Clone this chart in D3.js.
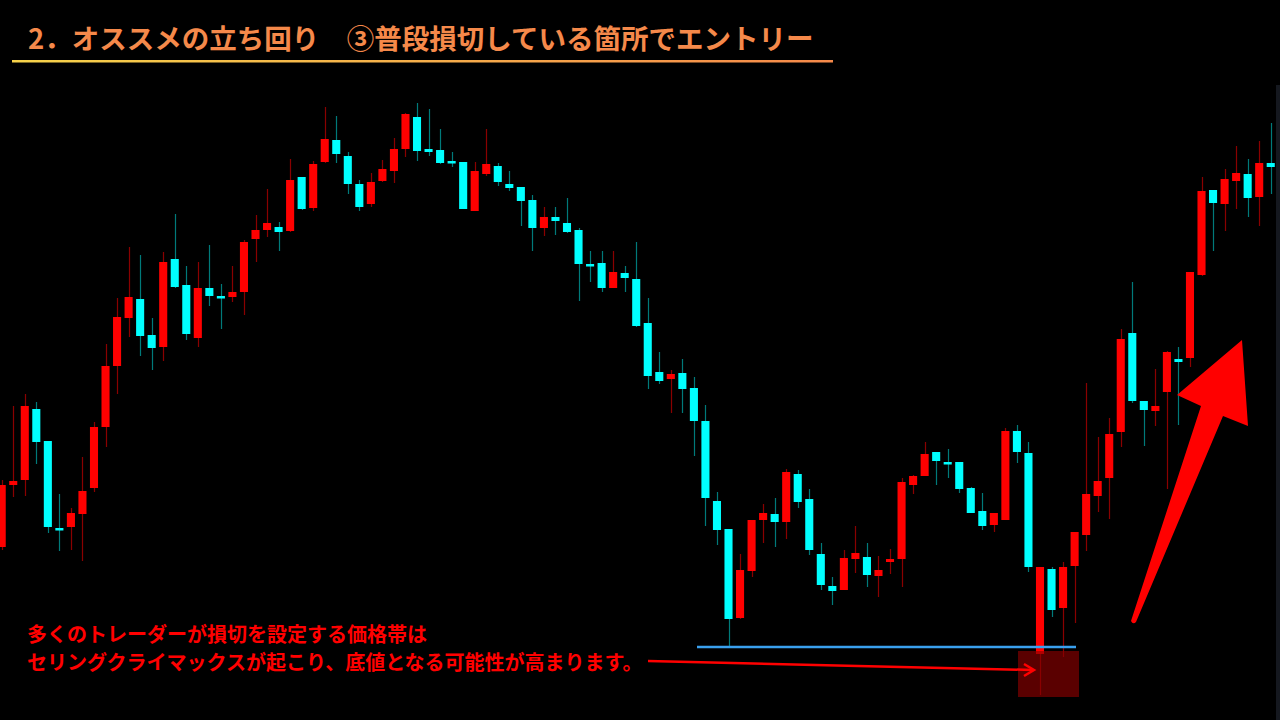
<!DOCTYPE html>
<html><head><meta charset="utf-8">
<script src="https://cdn.jsdelivr.net/npm/d3@7/dist/d3.min.js"></script>
<style>body{margin:0;background:#000;overflow:hidden}svg{display:block}</style>
</head><body><svg id="c" width="1280" height="720"></svg>
<script>
// price values (arbitrary pip units), index = bar number
const opens =[453,515,520,591,559,472,473,486,512,573,634,682,701,665,653,741,715,662,712,704,703,708,761,770,773,769,823,792,838,860,844,816,796,819,829,851,883,851,850,839,838,789,826,834,816,813,800,772,783,777,770,736,737,712,727,721,677,628,621,627,612,579,499,471,382,429,480,486,478,526,501,446,414,410,441,443,424,438,441,515,524,548,538,538,512,489,475,480,569,547,346,431,392,434,465,504,522,568,667,599,589,608,641,642,725,810,796,819,826,803,837];
const highs =[520,594,606,598,559,506,492,543,578,656,702,753,745,682,748,786,734,738,755,716,734,760,785,811,778,841,823,839,893,884,848,820,827,840,862,887,897,891,871,848,838,838,871,837,829,813,805,793,793,802,772,749,749,749,734,758,702,648,630,641,623,595,508,471,446,480,496,502,531,530,511,457,423,450,474,457,444,451,522,525,558,548,551,538,513,507,487,572,575,558,433,433,438,468,617,563,582,671,718,599,631,649,653,728,823,810,831,854,841,859,877];
const lows  =[450,503,504,536,467,449,450,439,508,553,606,663,644,630,639,712,660,653,694,671,698,685,738,763,749,768,790,789,837,837,806,789,793,818,817,843,839,844,836,833,791,789,824,814,809,774,749,764,765,767,699,718,708,712,708,673,611,616,587,587,544,474,455,353,381,423,457,453,461,492,445,410,395,410,427,413,403,426,413,506,524,515,522,507,487,470,468,480,537,428,305,383,343,377,449,488,481,553,597,554,574,511,575,633,724,749,769,791,783,774,806];
const closes=[515,519,594,558,473,472,487,509,573,634,683,703,664,652,738,713,666,712,704,704,708,758,770,777,768,820,791,836,861,846,816,793,818,831,851,886,849,848,837,839,791,829,836,818,812,799,772,783,779,768,736,736,712,728,722,674,624,619,626,611,579,502,470,381,430,480,487,478,528,498,450,415,409,442,447,425,430,441,518,524,546,539,538,511,487,474,487,569,548,433,433,390,433,468,506,519,566,661,599,590,594,648,638,728,809,797,821,827,802,837,833];
const supportLevel = 353;
const titleText = "2．オススメの立ち回り　③普段損切している箇所でエントリー";
const noteLines = ["多くのトレーダーが損切を設定する価格帯は","セリングクライマックスが起こり、底値となる可能性が高まります。"];

const bars = opens.map((o,i)=>({i,o,h:highs[i],l:lows[i],c:closes[i]}));
const svg = d3.select("#c");
svg.append("rect").attr("width",1280).attr("height",720).attr("fill","#000");
const x = d3.scaleBand().domain(d3.range(bars.length)).range([-4.07, 1276.5]).paddingInner(0.3).paddingOuter(0.15);
const y = d3.scaleLinear().domain([280,1000]).range([720,0]);

svg.append("rect").attr("x",1276).attr("y",85).attr("width",4).attr("height",635).attr("fill","#15181f");

const g = svg.append("g");
const up = d=>d.c>d.o;
g.selectAll("line.w").data(bars).join("line")
  .attr("x1",d=>Math.round(x(d.i)+x.bandwidth()/2)+0.5).attr("x2",d=>Math.round(x(d.i)+x.bandwidth()/2)+0.5)
  .attr("y1",d=>y(d.h)).attr("y2",d=>y(d.l))
  .attr("stroke",d=>up(d)?"#8a0000":"#007a7a").attr("stroke-width",1.2);
g.selectAll("rect.b").data(bars).join("rect")
  .attr("x",d=>x(d.i)).attr("width",x.bandwidth())
  .attr("y",d=>y(Math.max(d.o,d.c))).attr("height",d=>Math.max(2.5,Math.abs(y(d.o)-y(d.c))))
  .attr("fill",d=>up(d)?"#ff0000":"#00ffff");

// support line
svg.append("line").attr("x1",697).attr("x2",1076).attr("y1",y(supportLevel)).attr("y2",y(supportLevel))
  .attr("stroke","#3aa0ee").attr("stroke-width",2.5);
// dark red box
svg.append("rect").attr("x",1018).attr("y",651).attr("width",61).attr("height",46).attr("fill","#8b0000").attr("opacity",0.65);

// pointer arrow
svg.append("line").attr("x1",648).attr("y1",661).attr("x2",1033).attr("y2",670).attr("stroke","#ff0000").attr("stroke-width",2.5);
svg.append("path").attr("d","M1024,664 L1034,670 L1024,676").attr("fill","none").attr("stroke","#ff0000").attr("stroke-width",2.5);

// big arrow
svg.append("path").attr("d","M1131,621 Q1133,625 1136,622 L1223,416 L1248,426 L1242,340 L1177,395 L1201,406 Z").attr("fill","#ff0000");

// title
svg.append("text").attr("x",28).attr("y",49).text(titleText)
  .attr("font-family","'Noto Sans CJK JP'").attr("font-weight",700).attr("font-size",27.5).attr("fill","#f5894a");
const grad = svg.append("defs").append("linearGradient").attr("id","gl");
grad.append("stop").attr("offset","0%").attr("stop-color","#f7d34a");
grad.append("stop").attr("offset","100%").attr("stop-color","#f5894a");
svg.append("rect").attr("x",12).attr("y",60).attr("width",821).attr("height",2.5).attr("fill","url(#gl)");

// note
svg.selectAll("text.n").data(noteLines).join("text")
  .attr("x",27).attr("y",(d,i)=>642+i*28).text(d=>d)
  .attr("font-family","'Noto Sans CJK JP'").attr("font-weight",700).attr("font-size",20).attr("fill","#ff0000");
</script></body></html>
